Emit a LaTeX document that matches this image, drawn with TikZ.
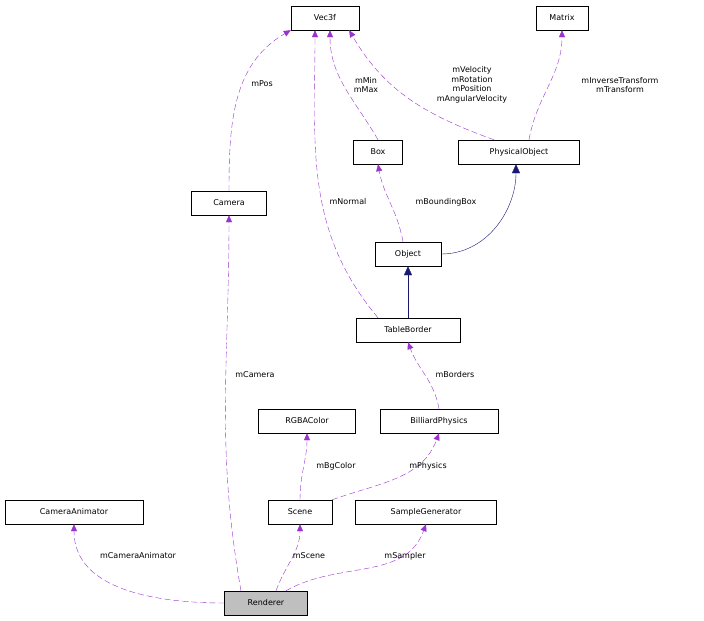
\documentclass[tikz,border=0pt]{standalone}
\usepackage{fontspec}
\setmainfont{DejaVu Sans}
\usetikzlibrary{arrows.meta}
\begin{document}
\begin{tikzpicture}[x=1pt,y=-1pt,
  cls/.style={draw,fill=white,font=\fontsize{8}{9.5}\selectfont,minimum height=24pt,inner xsep=6pt},
  use/.style={draw={rgb,255:red,154;green,50;blue,205},dash pattern=on 6pt off 3pt,-{Triangle[length=7pt,width=6pt,fill={rgb,255:red,154;green,50;blue,205}]}},
  inh/.style={draw={rgb,255:red,25;green,25;blue,112},-{Triangle[length=9pt,width=8pt,fill={rgb,255:red,25;green,25;blue,112}]}},
  lbl/.style={font=\fontsize{8}{9.5}\selectfont,align=center}]
\useasboundingbox (0,0) rectangle (704,621);
%%Classes
\node[cls,minimum width=68pt] (vec) at (325,18) {Vec3f};
\node[cls,minimum width=52pt] (mat) at (562,18) {Matrix};
\node[cls,minimum width=49pt] (box) at (378,152) {Box};
\node[cls,minimum width=121pt] (phys) at (519,152) {PhysicalObject};
\node[cls,minimum width=75pt] (cam) at (229,203) {Camera};
\node[cls,minimum width=66pt] (obj) at (408,254) {Object};
\node[cls,minimum width=104pt] (tb) at (408,330) {TableBorder};
\node[cls,minimum width=97pt] (rgba) at (307,421) {RGBAColor};
\node[cls,minimum width=118pt] (bp) at (439,421) {BilliardPhysics};
\node[cls,minimum width=138pt] (ca) at (74,512) {CameraAnimator};
\node[cls,minimum width=64pt] (scene) at (300,512) {Scene};
\node[cls,minimum width=141pt] (sg) at (426,512) {SampleGenerator};
\node[cls,minimum width=83pt,fill={rgb,255:red,191;green,191;blue,191}] (ren) at (266,603) {Renderer};
%%Inheritance
\draw[inh] (obj.east) to[out=0,in=-90] (phys.south -| 516,0);
\draw[inh] (tb) -- (obj);
%%Members
\draw[use] (cam.north) to[out=90,in=-150] (vec.south west);
\draw[use] (box.north) to[out=120,in=-90] ([xshift=5pt]vec.south);
\draw[use] ([xshift=-25pt]phys.north) to[out=160,in=-60] ([xshift=-10pt]vec.south east);
\draw[use] ([xshift=10pt]phys.north) to[out=80,in=-90] (mat.south);
\draw[use] ([xshift=-30pt]tb.north) to[out=130,in=-90] ([xshift=-10pt]vec.south);
\draw[use] ([xshift=-5pt]obj.north) to[out=100,in=-80] (box.south);
\draw[use] (bp.north) to[out=100,in=-70] (tb.south);
\draw[use] (scene.north) to[out=90,in=-90] (rgba.south);
\draw[use] (scene.north east) to[out=20,in=-110] (bp.south);
\draw[use] ([xshift=-25pt]ren.north) to[out=100,in=-90] (cam.south);
\draw[use] (ren.west) to[out=180,in=-90] (ca.south);
\draw[use] ([xshift=10pt]ren.north) to[out=70,in=-90] (scene.south);
\draw[use] ([xshift=20pt]ren.north) to[out=30,in=-110] (sg.south);
%%Labels
\node[lbl] (lpos) at (262,84) {mPos};
\node[lbl] (lbox) at (366,85) {mMin\\mMax};
\node[lbl] (lphys) at (472,85) {mVelocity\\mRotation\\mPosition\\mAngularVelocity};
\node[lbl] (lmat) at (620,85) {mInverseTransform\\mTransform};
\node[lbl] (lnorm) at (348,202) {mNormal};
\node[lbl] (lbb) at (446,202) {mBoundingBox};
\node[lbl] (lbord) at (455,375) {mBorders};
\node[lbl] (lcam) at (255,375) {mCamera};
\node[lbl] (lbg) at (336,466) {mBgColor};
\node[lbl] (lphy) at (428,466) {mPhysics};
\node[lbl] (lca) at (138,556) {mCameraAnimator};
\node[lbl] (lsc) at (309,556) {mScene};
\node[lbl] (lsa) at (405,556) {mSampler};
\end{tikzpicture}
\end{document}
